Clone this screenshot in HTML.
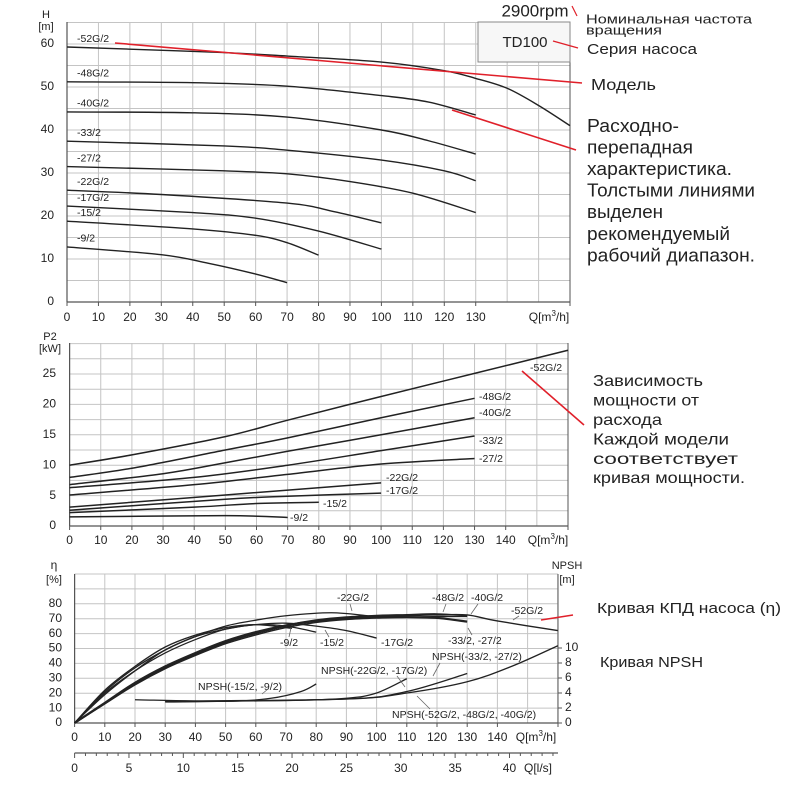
<!DOCTYPE html>
<html><head><meta charset="utf-8"><style>
html,body{margin:0;padding:0;background:#fff}
svg{display:block}
text{font-family:"Liberation Sans",sans-serif;fill:#222}
</style></head><body>
<svg id="s" width="800" height="800" viewBox="0 0 800 800" xmlns="http://www.w3.org/2000/svg"></svg>
<script>
const S=document.getElementById('s');let h='';
function L(x1,y1,x2,y2,c,w){h+=`<line x1="${x1}" y1="${y1}" x2="${x2}" y2="${y2}" stroke="${c}" stroke-width="${w}"/>`;}
function T(x,y,t,sz,anc,extra){h+=`<text x="${x}" y="${y}" font-size="${sz}" text-anchor="${anc||'start'}" dominant-baseline="middle" ${extra||''}>${t}</text>`;}
function TL(x,y,t,sz,len){T(x,y,t,sz,'start',`textLength="${len}" lengthAdjust="spacingAndGlyphs"`);}
function P(pts,X,Y,w,c){const p=pts.map(a=>[X(a[0]),Y(a[1])]);let d=`M${p[0][0]},${p[0][1]}`;
for(let i=0;i<p.length-1;i++){const p0=p[i-1]||p[i],p1=p[i],p2=p[i+1],p3=p[i+2]||p2;
d+=` C${p1[0]+(p2[0]-p0[0])/6},${p1[1]+(p2[1]-p0[1])/6} ${p2[0]-(p3[0]-p1[0])/6},${p2[1]-(p3[1]-p1[1])/6} ${p2[0]},${p2[1]}`;}
h+=`<path d="${d}" fill="none" stroke="${c||'#222'}" stroke-width="${w||1.3}"/>`;}
const G='#c4c4c4';
// ===== TOP =====
{const X=q=>67+q*3.144,Y=v=>302-v*4.3;
for(let q=0;q<=160;q+=10)L(X(q),22,X(q),302,G,1);
for(let v=0;v<=65;v+=5)L(67,Y(v),570,Y(v),G,1);
L(67,22,67,302,'#555',1.2);L(67,302,570,302,'#555',1.2);L(570,22,570,306,'#555',1);
h+=`<rect x="478" y="22" width="92" height="40" fill="#f7f7f7" stroke="#888" stroke-width="1"/>`;
T(525,43,'TD100',15,'middle');
for(let q=0;q<=130;q+=10){T(X(q),318,q,12,'middle');L(X(q),302,X(q),306,'#555',1);}
T(549,318,'Q[m<tspan font-size="8" dy="-4">3</tspan><tspan dy="4">/h]</tspan>',12,'middle');
for(let v=0;v<=60;v+=10)T(54,Y(v),v,12,'end');
T(46,15,'H',11,'middle');T(46,27,'[m]',11,'middle');
const C=[['-52G/2',[[0,59.3],[20,58.8],[50,58],[70,57.2],[100,55.8],[120,53.8],[130,52],[140,49.7],[150,45.7],[160,41]]],
['-48G/2',[[0,51.2],[40,51],[70,50.2],[100,48],[115,46.5],[130,43.5]]],
['-40G/2',[[0,44.2],[40,44],[70,43],[100,40],[115,37.5],[130,34.4]]],
['-33/2',[[0,37.4],[50,36.3],[70,35.3],[100,33],[120,30.5],[130,28.2]]],
['-27/2',[[0,31.5],[50,30.5],[70,29.8],[90,28],[110,25.3],[130,20.8]]],
['-22G/2',[[0,26],[30,25],[70,23],[85,21],[100,18.4]]],
['-17G/2',[[0,22.3],[40,20.8],[60,19.5],[80,16.5],[100,12.3]]],
['-15/2',[[0,18.8],[40,17],[60,15.5],[70,13.8],[80,10.9]]],
['-9/2',[[0,12.8],[30,11],[45,9],[60,6.5],[70,4.5]]]];
C.forEach(c=>{P(c[1],X,Y,1.4);T(77,Y(c[1][0][1])-8,c[0],10.5);});
}
L(115,43,582,83,'#e0202a',1.6);L(452,110,576,150,'#e0202a',1.6);
L(572,6,577,16,'#e0202a',1.2);L(553,41,578,48,'#e0202a',1.4);
T(535,12,'2900rpm',17,'middle');
TL(586,20,'Номинальная частота',13,166);TL(586,31,'вращения',13,76);
TL(587,50,'Серия насоса',15,110);TL(591,86,'Модель',16,65);
[['Расходно-',92],['перепадная',106],['характеристика.',145],['Толстыми линиями',168],['выделен',76],['рекомендуемый',143],['рабочий диапазон.',168]].forEach((t,i)=>TL(587,127+i*21.6,t[0],18,t[1]));
// ===== MIDDLE =====
{const X=q=>69.6+q*3.115,Y=v=>526-v*6.08;
for(let q=0;q<=160;q+=10)L(X(q),343,X(q),526,G,1);
for(let v=0;v<=30;v+=2.5)L(69.6,Y(v),568,Y(v),G,1);
L(69.6,343,69.6,526,'#555',1.2);L(69.6,526,568,526,'#555',1.2);L(568,343,568,530,'#555',1);
for(let q=0;q<=140;q+=10){T(X(q),541,q,12,'middle');L(X(q),526,X(q),530,'#555',1);}
T(548,541,'Q[m<tspan font-size="8" dy="-4">3</tspan><tspan dy="4">/h]</tspan>',12,'middle');
for(let v=0;v<=25;v+=5)T(56,Y(v),v,12,'end');
T(50,337,'P2',11,'middle');T(50,349,'[kW]',11,'middle');
const C=[[[[0,10],[20,11.7],[50,14.7],[70,17.4],[100,21.3],[130,25.1],[160,28.9]]],
[[[0,8],[20,9.5],[50,12.5],[70,14.5],[100,17.8],[130,21]]],
[[[0,6.8],[30,8.6],[50,10.4],[70,12.3],[100,15],[130,17.8]]],
[[[0,6.3],[40,8],[70,10],[100,12.4],[130,14.8]]],
[[[0,5.1],[40,6.8],[70,8.5],[100,10.2],[130,11.1]]],
[[[0,3.1],[50,5.1],[100,7.1]]],
[[[0,2.6],[50,4.4],[70,4.9],[100,5.4]]],
[[[0,2.2],[40,3.1],[60,3.7],[80,3.9]]],
[[[0,1.5],[50,1.7],[70,1.4]]]];
C.forEach(c=>P(c[0],X,Y,1.5));
[['-52G/2',530,368],['-48G/2',479,397],['-40G/2',479,413],['-33/2',479,441],['-27/2',479,459],['-22G/2',386,478],['-17G/2',386,491],['-15/2',323,504],['-9/2',290,518]].forEach(a=>T(a[1],a[2],a[0],10.5));
}
L(522,371,584,425,'#e0202a',1.6);
[['Зависимость',110],['мощности от',106],['расхода',69],['Каждой модели',136],['соответствует',145],['кривая мощности.',152]].forEach((t,i)=>TL(593,382+i*19.4,t[0],16,t[1]));
// ===== BOTTOM =====
{const X=q=>74.6+q*3.02,Y=v=>723-v*1.49,N=n=>723-n*7.5;
for(let q=0;q<=160;q+=10)L(X(q),574,X(q),723,G,1);
for(let v=0;v<=100;v+=10)L(74.6,Y(v),558,Y(v),G,1);
L(74.6,574,74.6,723,'#555',1.2);L(74.6,723,558,723,'#555',1.2);L(558,574,558,727,'#555',1);
for(let q=0;q<=140;q+=10){T(X(q),738,q,12,'middle');L(X(q),723,X(q),727,'#555',1);}
T(536,738,'Q[m<tspan font-size="8" dy="-4">3</tspan><tspan dy="4">/h]</tspan>',12,'middle');
for(let v=0;v<=80;v+=10){T(62,Y(v),v,12,'end');}
for(let n=0;n<=10;n+=2){T(565,N(n),n,12,'start');L(558,N(n),562,N(n),'#555',1);}
T(54,566,'η',12,'middle');T(54,580,'[%]',11,'middle');
T(567,566,'NPSH',11,'middle');T(567,580,'[m]',11,'middle');
L(74.6,753,558,753,'#555',1.2);
for(let s=0;s<=44;s+=1){const x=X(s*3.6);if(x<=558.5)L(x,753,x,s%5==0?758:756,'#555',1);}
for(let s=0;s<=40;s+=5)T(X(s*3.6),769,s,12,'middle');
T(538,769,'Q[l/s]',12,'middle');
P([[0,0],[10,22],[20,38],[30,51],[40,59],[50,64],[60,66],[72,63.5]],X,Y,1.3);
P([[0,0],[10,21],[20,37],[30,49],[40,58],[50,63],[60,66],[70,65],[80,61]],X,Y,1.3);
P([[0,0],[10,20],[20,35],[30,47],[40,56],[50,63],[60,66],[70,67],[80,65],[90,62],[100,57]],X,Y,1.3);
P([[0,0],[10,19],[20,35],[30,49],[40,58],[50,65],[60,69],[70,72],[85,74],[97,72]],X,Y,1.3);
const g=[[0,0],[10,13],[20,26],[30,37],[40,46],[50,54],[60,60],[70,65],[80,68.5],[90,70.5],[100,71.5],[110,72],[120,72.5]];
P(g.concat([[130,72.5],[140,68.5],[160,62]]),X,Y,1.4);
P(g.map(a=>[a[0],a[1]*0.985]).concat([[130,71.5]]),X,Y,1.4);
P(g.map(a=>[a[0],a[1]*1.01]).concat([[130,72]]),X,Y,1.4);
P([[0,0],[10,13.5],[20,27],[30,38],[40,47],[50,55],[60,61],[70,65.5],[80,68.5],[90,70],[100,71],[110,71],[120,70.5],[130,68]],X,Y,2.2);
P([[20,3.1],[50,2.9],[65,3.3],[75,4.2],[80,5.2]],X,N,1.3);
P([[30,2.9],[70,3],[90,3.3],[100,4],[110,5.9]],X,N,1.3);
P([[30,2.8],[90,3.2],[110,4.2],[130,6.6]],X,N,1.3);
P([[30,2.9],[90,3.2],[110,4],[130,5.5],[145,7.6],[160,10.3]],X,N,1.3);
[['-22G/2',337,598],['-48G/2',432,598],['-40G/2',471,598],['-52G/2',511,611],['-9/2',280,643],['-15/2',320,643],['-17G/2',381,643],['-33/2, -27/2',448,641],['NPSH(-33/2, -27/2)',432,657],['NPSH(-22G/2, -17G/2)',321,671],['NPSH(-15/2, -9/2)',198,687],['NPSH(-52G/2, -48G/2, -40G/2)',392,715]].forEach(a=>T(a[1],a[2],a[0],10.5));
const lc='#666';
L(350,604,352,611,lc,.8);L(446,604,443,612,lc,.8);L(478,604,471,614,lc,.8);L(519,616,513,620,lc,.8);
L(289,637,291,628,lc,.8);L(329,637,325,630,lc,.8);L(472,635,468,628,lc,.8);
L(440,663,433,676,lc,.8);L(397,676,405,687,lc,.8);L(268,689,262,694,lc,.8);L(430,709,417,696,lc,.8);
}
L(541,620,573,615,'#e0202a',1.6);
TL(597,609,'Кривая КПД насоса (η)',15,184);TL(600,663,'Кривая NPSH',15,103);
S.innerHTML=h;
</script>
</body></html>
